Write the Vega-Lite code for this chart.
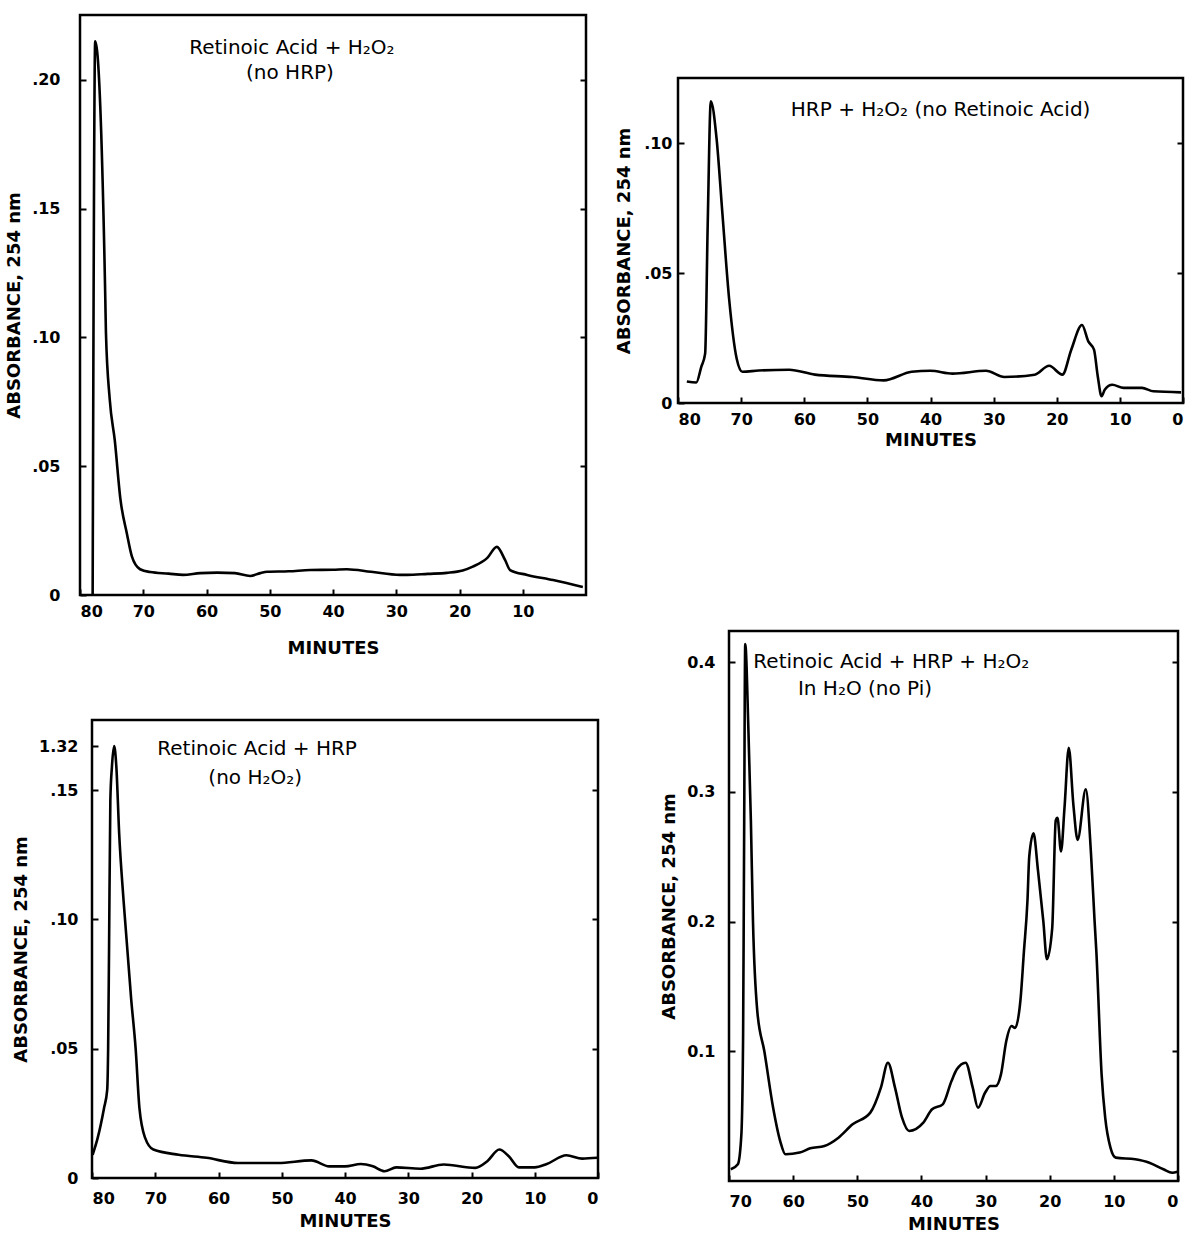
{
  "$schema": "https://vega.github.io/schema/vega-lite/v6.json",
  "background": "white",
  "padding": {"left": 3, "top": 13, "right": 0, "bottom": 0},
  "config": {
    "view": {"stroke": "black", "strokeWidth": 2.5},
    "axis": {"domain": false, "grid": false, "tickColor": "black", "tickWidth": 2, "tickSize": -6,
      "labelColor": "black", "titleColor": "black", "labelFont": "DejaVu Sans", "labelFontWeight": "bold", "labelFontSize": 16,
      "titleFont": "DejaVu Sans", "titleFontWeight": "bold", "titleFontSize": 18},
    "line": {"color": "black", "strokeWidth": 2.6, "interpolate": "monotone"},
    "text": {"font": "DejaVu Sans", "fontSize": 20, "color": "black"}
  },
  "datasets": {
    "tl": [
      {"t":78.0,"a":0},{"t":77.6,"a":0.215},{"t":76.0,"a":0.115},{"t":75.9,"a":0.102},{"t":75.3,"a":0.076},{"t":74.5,"a":0.060},{"t":73.6,"a":0.037},{"t":72.6,"a":0.024},{"t":71.8,"a":0.015},{"t":70.5,"a":0.010},{"t":68.9,"a":0.0089},{"t":66,"a":0.0083},{"t":63.7,"a":0.0078},{"t":61,"a":0.0085},{"t":58.3,"a":0.0087},{"t":55.5,"a":0.0085},{"t":53.1,"a":0.0074},{"t":51.5,"a":0.0085},{"t":50.4,"a":0.009},{"t":47,"a":0.0092},{"t":43.6,"a":0.0097},{"t":40,"a":0.0098},{"t":37.8,"a":0.010},{"t":34,"a":0.009},{"t":29.4,"a":0.0078},{"t":28.3,"a":0.0078},{"t":25,"a":0.0082},{"t":22.0,"a":0.0086},{"t":19.5,"a":0.0095},{"t":17.9,"a":0.011},{"t":15.6,"a":0.0144},{"t":14.1,"a":0.0187},{"t":12.8,"a":0.0136},{"t":12.0,"a":0.0097},{"t":9.3,"a":0.0078},{"t":5.2,"a":0.0058},{"t":0.5,"a":0.0031}
    ],
    "tr": [
      {"t":78.6,"a":0.0083},{"t":77.1,"a":0.0079},{"t":76.3,"a":0.014},{"t":75.7,"a":0.019},{"t":75.3,"a":0.068},{"t":74.8,"a":0.116},{"t":73.9,"a":0.102},{"t":73.0,"a":0.074},{"t":71.9,"a":0.040},{"t":70.7,"a":0.017},{"t":69.8,"a":0.012},{"t":67.2,"a":0.0125},{"t":62.4,"a":0.0128},{"t":58.3,"a":0.0109},{"t":52.4,"a":0.010},{"t":47.4,"a":0.0087},{"t":43.0,"a":0.012},{"t":40.0,"a":0.0124},{"t":36.5,"a":0.0113},{"t":31.2,"a":0.0124},{"t":28.3,"a":0.010},{"t":23.5,"a":0.0109},{"t":21.2,"a":0.0143},{"t":19.1,"a":0.0109},{"t":17.7,"a":0.0205},{"t":16.0,"a":0.030},{"t":15.0,"a":0.0237},{"t":14.1,"a":0.0205},{"t":13.5,"a":0.0102},{"t":12.9,"a":0.0026},{"t":12.4,"a":0.0051},{"t":11.2,"a":0.007},{"t":9.4,"a":0.0058},{"t":6.5,"a":0.0058},{"t":4.7,"a":0.0045},{"t":0.3,"a":0.0041}
    ],
    "bl": [
      {"t":79.9,"a":0.009},{"t":79.1,"a":0.0155},{"t":78.1,"a":0.027},{"t":77.6,"a":0.034},{"t":77.45,"a":0.05},{"t":77.3,"a":0.09},{"t":77.1,"a":0.146},{"t":76.85,"a":0.159},{"t":76.5,"a":0.167},{"t":76.15,"a":0.159},{"t":75.7,"a":0.133},{"t":75.0,"a":0.107},{"t":73.8,"a":0.069},{"t":73.1,"a":0.050},{"t":72.5,"a":0.027},{"t":71.6,"a":0.0155},{"t":70.3,"a":0.011},{"t":66.3,"a":0.009},{"t":61.9,"a":0.0078},{"t":56.9,"a":0.0058},{"t":50.6,"a":0.0058},{"t":45.3,"a":0.0068},{"t":42.5,"a":0.0045},{"t":40,"a":0.0045},{"t":37.5,"a":0.0054},{"t":35.6,"a":0.0045},{"t":33.75,"a":0.0026},{"t":31.9,"a":0.0041},{"t":28.1,"a":0.0036},{"t":24.4,"a":0.0052},{"t":19.4,"a":0.0039},{"t":17.5,"a":0.0065},{"t":15.6,"a":0.011},{"t":14.1,"a":0.0084},{"t":12.5,"a":0.0041},{"t":10,"a":0.0041},{"t":8.1,"a":0.0054},{"t":5,"a":0.0088},{"t":2.5,"a":0.0075},{"t":0.1,"a":0.0078}
    ],
    "br": [
      {"t":69.72,"a":0.009},{"t":68.62,"a":0.0129},{"t":68.07,"a":0.036},{"t":67.80,"a":0.113},{"t":67.69,"a":0.216},{"t":67.63,"a":0.278},{"t":67.47,"a":0.414},{"t":66.97,"a":0.347},{"t":66.59,"a":0.278},{"t":66.26,"a":0.200},{"t":65.59,"a":0.131},{"t":64.49,"a":0.100},{"t":63.12,"a":0.0565},{"t":62.02,"a":0.0308},{"t":61.19,"a":0.0206},{"t":58.99,"a":0.0219},{"t":57.33,"a":0.0252},{"t":55.13,"a":0.027},{"t":52.93,"a":0.0334},{"t":50.73,"a":0.0437},{"t":47.97,"a":0.0527},{"t":46.32,"a":0.072},{"t":45.22,"a":0.0912},{"t":44.12,"a":0.072},{"t":43.02,"a":0.0488},{"t":41.92,"a":0.0386},{"t":39.71,"a":0.045},{"t":38.34,"a":0.0553},{"t":36.68,"a":0.0591},{"t":35.31,"a":0.0771},{"t":34.48,"a":0.0861},{"t":33.11,"a":0.0912},{"t":32.00,"a":0.072},{"t":31.18,"a":0.0565},{"t":30.08,"a":0.068},{"t":29.25,"a":0.0732},{"t":28.42,"a":0.0732},{"t":27.60,"a":0.0822},{"t":26.77,"a":0.108},{"t":25.95,"a":0.1195},{"t":25.40,"a":0.118},{"t":24.57,"a":0.139},{"t":24.02,"a":0.177},{"t":23.47,"a":0.216},{"t":23.19,"a":0.250},{"t":22.53,"a":0.268},{"t":21.82,"a":0.239},{"t":20.99,"a":0.200},{"t":20.44,"a":0.171},{"t":19.61,"a":0.195},{"t":19.06,"a":0.278},{"t":18.79,"a":0.280},{"t":18.24,"a":0.254},{"t":17.69,"a":0.288},{"t":17.03,"a":0.334},{"t":16.31,"a":0.290},{"t":15.65,"a":0.263},{"t":14.38,"a":0.302},{"t":13.56,"a":0.252},{"t":13.00,"a":0.200},{"t":12.73,"a":0.177},{"t":11.91,"a":0.0822},{"t":11.35,"a":0.0488},{"t":10.53,"a":0.0257},{"t":9.70,"a":0.018},{"t":6.67,"a":0.0167},{"t":4.47,"a":0.0141},{"t":2.27,"a":0.009},{"t":0.89,"a":0.0064},{"t":0.07,"a":0.0072}
    ],
    "tl_txt": [{"t":46.5,"a":0.2122,"label":"Retinoic Acid + H₂O₂"},{"t":46.8,"a":0.2026,"label":"(no HRP)"}],
    "tr_txt": [{"t":38.4,"a":0.1127,"label":"HRP + H₂O₂  (no Retinoic Acid)"}],
    "bl_txt": [{"t":53.9,"a":0.1659,"label":"Retinoic Acid + HRP"},{"t":54.2,"a":0.1547,"label":"(no H₂O₂)"}],
    "br_txt": [{"t":44.7,"a":0.400,"label":"Retinoic Acid + HRP + H₂O₂"},{"t":48.8,"a":0.379,"label":"In H₂O   (no Pi)"}]
  },
  "spacing": 5,
  "hconcat": [
    {
      "columns": 1, "align": "none", "spacing": 0,
      "concat": [
        {
          "columns": 2, "align": "none", "spacing": 0,
          "concat": [
            {"width": 1, "height": 1, "view": {"stroke": null}, "mark": "point", "data": {"values": []}},
            {
              "width": 506, "height": 580,
              "resolve": {"axis": {"y": "independent"}},
              "encoding": {
                "x": {"field": "t", "type": "quantitative", "scale": {"domain": [0, 80], "reverse": true, "nice": false},
                      "axis": {"values": [80,70,60,50,40,30,20,10], "format": "d", "title": "MINUTES", "labelPadding": 14, "titlePadding": 20}}
              },
              "layer": [
                {"data": {"name": "tl"}, "mark": {"type": "line"},
                 "encoding": {
                   "y": {"field": "a", "type": "quantitative", "scale": {"domain": [0, 0.2252], "nice": false},
                         "axis": {"values": [0,0.05,0.1,0.15,0.2], "labelExpr": "datum.value == 0 ? '0' : replace(format(datum.value, '.2f'), '0.', '.')", "title": "ABSORBANCE, 254 nm", "labelPadding": 26, "titlePadding": 8}}
                 }},
                {"data": {"name": "tl_txt"}, "mark": {"type": "text"},
                 "encoding": {
                   "y": {"field": "a", "type": "quantitative", "axis": {"orient": "right", "labels": false, "title": null, "values": [0.05,0.1,0.15,0.2]}},
                   "text": {"field": "label"}
                 }}
              ]
            }
          ]
        },
        {"width": 1, "height": 59, "view": {"stroke": null}, "mark": "point", "data": {"values": []}},
        {
          "columns": 2, "align": "none", "spacing": 0,
          "concat": [
            {"width": 8, "height": 1, "view": {"stroke": null}, "mark": "point", "data": {"values": []}},
            {
              "width": 506, "height": 458,
              "resolve": {"axis": {"y": "independent"}},
              "encoding": {
                "x": {"field": "t", "type": "quantitative", "scale": {"domain": [0, 80], "reverse": true, "nice": false},
                      "axis": {"values": [80,70,60,50,40,30,20,10,0], "format": "d", "title": "MINUTES", "labelPadding": 18, "titlePadding": 6}}
              },
              "layer": [
                {"data": {"name": "bl"}, "mark": {"type": "line"},
                 "encoding": {
                   "y": {"field": "a", "type": "quantitative", "scale": {"domain": [0, 0.1771], "nice": false},
                         "axis": {"values": [0,0.05,0.1,0.15,0.167], "labelExpr": "datum.value > 0.16 ? '1.32' : datum.value == 0 ? '0' : replace(format(datum.value, '.2f'), '0.', '.')", "title": "ABSORBANCE, 254 nm", "labelPadding": 20, "titlePadding": 8}}
                 }},
                {"data": {"name": "bl_txt"}, "mark": {"type": "text"},
                 "encoding": {
                   "y": {"field": "a", "type": "quantitative", "axis": {"orient": "right", "labels": false, "title": null, "values": [0.05,0.1,0.15]}},
                   "text": {"field": "label"}
                 }}
              ]
            }
          ]
        }
      ]
    },
    {
      "columns": 1, "align": "none", "spacing": 0,
      "concat": [
        {"width": 1, "height": 61, "view": {"stroke": null}, "mark": "point", "data": {"values": []}},
        {
          "columns": 2, "align": "none", "spacing": 0,
          "concat": [
            {"width": 5, "height": 1, "view": {"stroke": null}, "mark": "point", "data": {"values": []}},
            {
              "width": 505, "height": 325,
              "resolve": {"axis": {"y": "independent"}},
              "encoding": {
                "x": {"field": "t", "type": "quantitative", "scale": {"domain": [0, 80], "reverse": true, "nice": false},
                      "axis": {"values": [80,70,60,50,40,30,20,10,0], "format": "d", "title": "MINUTES", "labelPadding": 14, "titlePadding": 4}}
              },
              "layer": [
                {"data": {"name": "tr"}, "mark": {"type": "line"},
                 "encoding": {
                   "y": {"field": "a", "type": "quantitative", "scale": {"domain": [0, 0.125], "nice": false},
                         "axis": {"values": [0,0.05,0.1], "labelExpr": "datum.value == 0 ? '0' : replace(format(datum.value, '.2f'), '0.', '.')", "title": "ABSORBANCE, 254 nm", "labelPadding": 12, "titlePadding": 10}}
                 }},
                {"data": {"name": "tr_txt"}, "mark": {"type": "text"},
                 "encoding": {
                   "y": {"field": "a", "type": "quantitative", "axis": {"orient": "right", "labels": false, "title": null, "values": [0.05,0.1]}},
                   "text": {"field": "label"}
                 }}
              ]
            }
          ]
        },
        {"width": 1, "height": 178, "view": {"stroke": null}, "mark": "point", "data": {"values": []}},
        {
          "columns": 2, "align": "none", "spacing": 0,
          "concat": [
            {"width": 50, "height": 1, "view": {"stroke": null}, "mark": "point", "data": {"values": []}},
            {
              "width": 449, "height": 550,
              "resolve": {"axis": {"y": "independent"}},
              "encoding": {
                "x": {"field": "t", "type": "quantitative", "scale": {"domain": [0, 70], "reverse": true, "nice": false},
                      "axis": {"values": [70,60,50,40,30,20,10,0], "format": "d", "title": "MINUTES", "labelPadding": 18, "titlePadding": 6}}
              },
              "layer": [
                {"data": {"name": "br"}, "mark": {"type": "line"},
                 "encoding": {
                   "y": {"field": "a", "type": "quantitative", "scale": {"domain": [0, 0.424], "nice": false},
                         "axis": {"values": [0.1,0.2,0.3,0.4], "format": ".1f", "title": "ABSORBANCE, 254 nm", "labelPadding": 20, "titlePadding": 8}}
                 }},
                {"data": {"name": "br_txt"}, "mark": {"type": "text"},
                 "encoding": {
                   "y": {"field": "a", "type": "quantitative", "axis": {"orient": "right", "labels": false, "title": null, "values": [0.1,0.2,0.3,0.4]}},
                   "text": {"field": "label"}
                 }}
              ]
            }
          ]
        }
      ]
    }
  ]
}
